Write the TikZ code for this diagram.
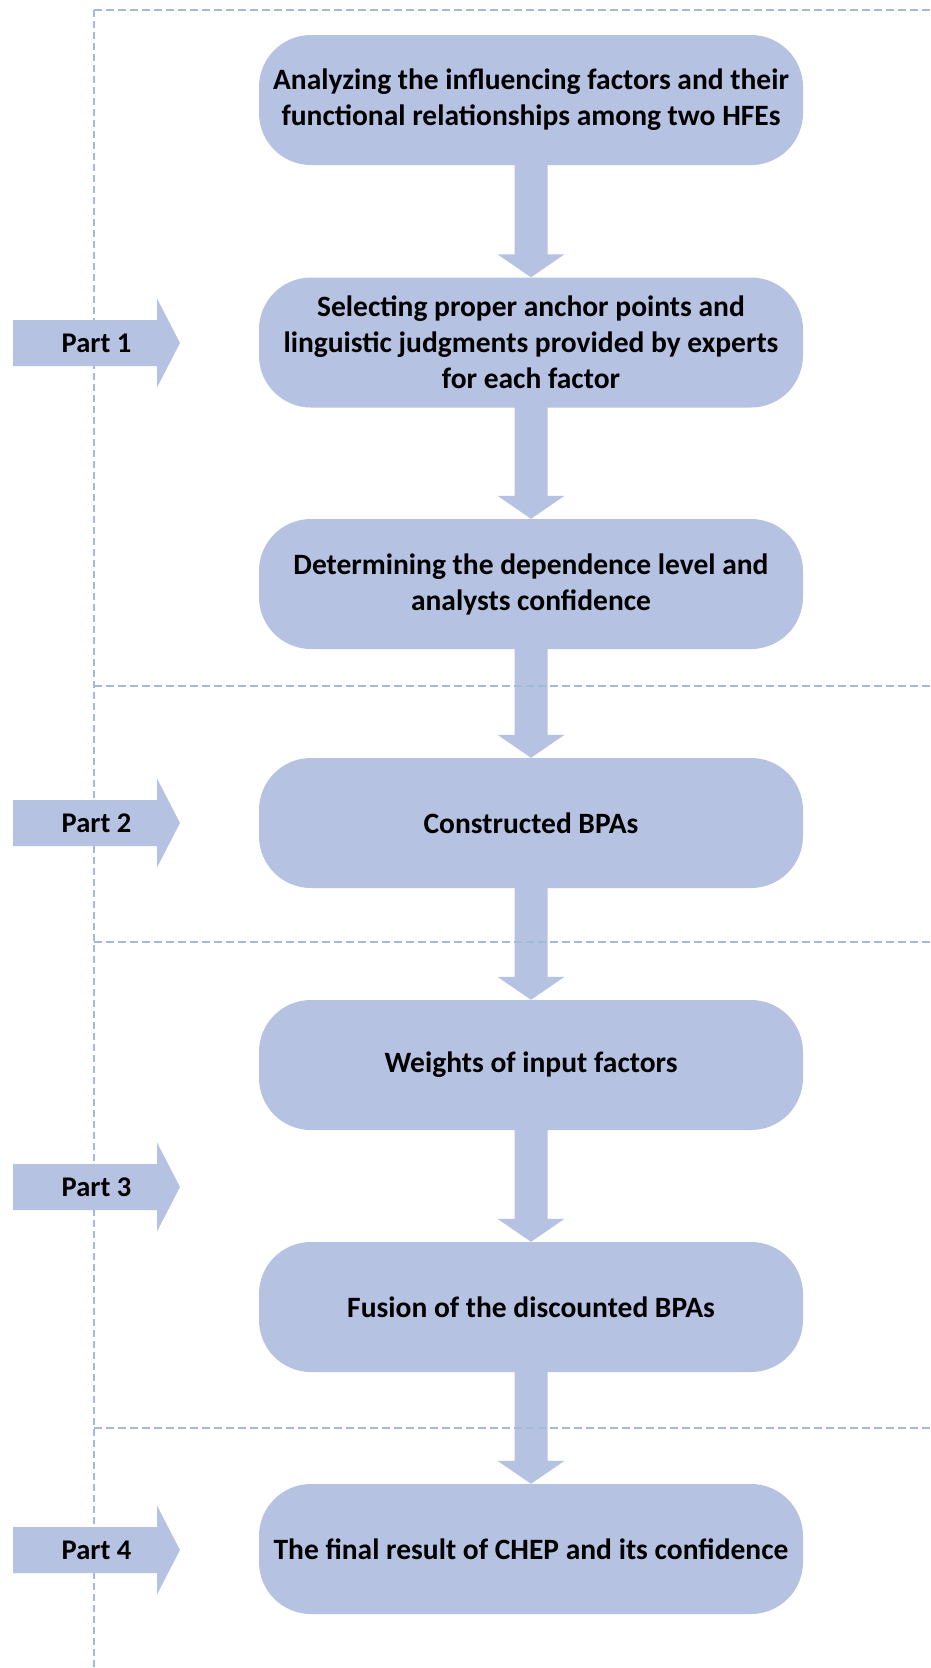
\documentclass[tikz,border=0pt]{standalone}
\usepackage{fontspec}
\setmainfont{Carlito}
\usetikzlibrary{calc}
\definecolor{boxfill}{RGB}{182,194,226}
\definecolor{dashcol}{RGB}{165,185,216}
\newcommand{\flowarrow}[2]{%
  \fill[boxfill] ($(#1.south)+(-16.5,-2)$) -- ($(#2.north)+(-16.5,-23)$) -- ($(#2.north)+(-33.5,-23)$) -- (#2.north) -- ($(#2.north)+(33.5,-23)$) -- ($(#2.north)+(16.5,-23)$) -- ($(#1.south)+(16.5,-2)$) -- cycle;}
\newcommand{\partarrow}[3]{%
  \coordinate (#1c) at (96.5,#2);
  \fill[boxfill] ($(#1c)+(-83.5,-23)$) -- ($(#1c)+(60.5,-23)$) -- ($(#1c)+(60.5,-44.5)$) -- ($(#1c)+(83.5,0)$) -- ($(#1c)+(60.5,44.5)$) -- ($(#1c)+(60.5,23)$) -- ($(#1c)+(-83.5,23)$) -- cycle;
  \node[parttext] (#1) at (#1c) {#3};}
\tikzset{
  stepbox/.style={rectangle, rounded corners=52pt, fill=boxfill, minimum width=544pt, minimum height=130pt, align=center, inner sep=0pt, font=\bfseries\fontsize{29.5}{36}\selectfont},
  parttext/.style={inner sep=0pt, font=\bfseries\fontsize{28.5}{33}\selectfont},
  hdash/.style={draw=dashcol, line width=1.8pt, dash pattern=on 8pt off 4pt},
  vdash/.style={draw=dashcol, line width=1.2pt, dash pattern=on 7pt off 4pt}
}
\begin{document}
\begin{tikzpicture}[x=1pt,y=-1pt]
\useasboundingbox (0,0) rectangle (931,1668);
% vertical dashed line (behind part arrows)
\draw[vdash] (94,10) -- (94,1668);
% boxes
\node[stepbox] (b1) at (531,100) {Analyzing the influencing factors and their\\functional relationships among two HFEs};
\node[stepbox] (b2) at (531,342.5) {Selecting proper anchor points and\\linguistic judgments provided by experts\\for each factor};
\node[stepbox] (b3) at (531,584) {Determining the dependence level and\\analysts confidence};
\node[stepbox] (b4) at (531,823) {Constructed BPAs};
\node[stepbox] (b5) at (531,1065) {Weights of input factors};
\node[stepbox] (b6) at (531,1307) {Fusion of the discounted BPAs};
\node[stepbox] (b7) at (531,1549) {The final result of CHEP and its confidence};
% flow arrows
\flowarrow{b1}{b2}
\flowarrow{b2}{b3}
\flowarrow{b3}{b4}
\flowarrow{b4}{b5}
\flowarrow{b5}{b6}
\flowarrow{b6}{b7}
% part arrows
\partarrow{p1}{343}{Part 1}
\partarrow{p2}{823}{Part 2}
\partarrow{p3}{1187}{Part 3}
\partarrow{p4}{1550}{Part 4}
% horizontal dashed lines
\draw[hdash] (94,10) -- (931,10);
\draw[hdash] (94,686) -- (931,686);
\draw[hdash] (94,942) -- (931,942);
\draw[hdash] (94,1428) -- (931,1428);
\end{tikzpicture}
\end{document}
